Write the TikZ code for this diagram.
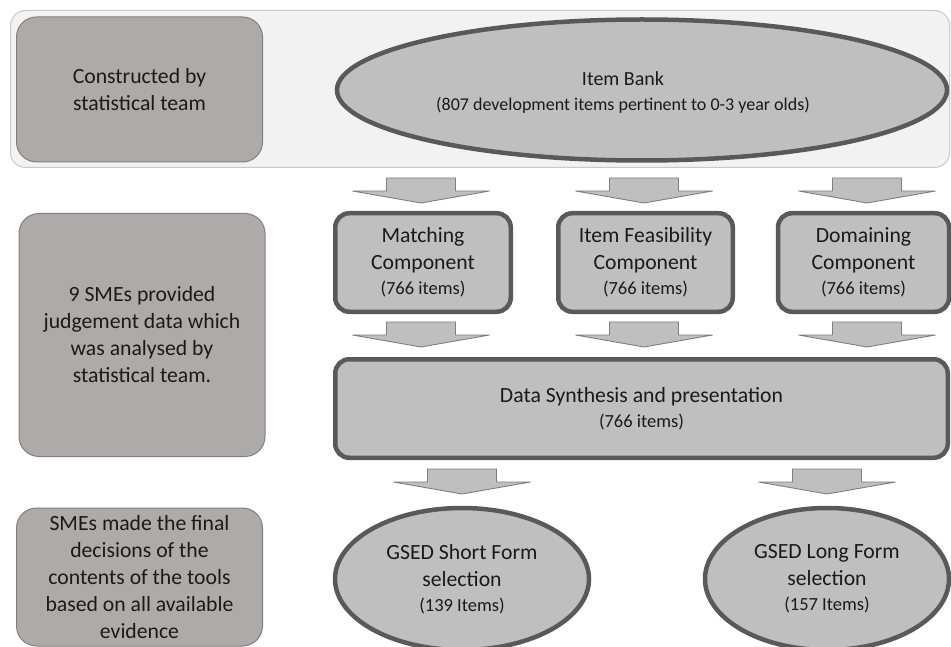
\documentclass[tikz,border=0pt]{standalone}
\usepackage{fontspec}
\setmainfont{Carlito}
\usetikzlibrary{shapes.geometric}
\definecolor{bandfill}{HTML}{F2F2F2}
\definecolor{bandline}{HTML}{C9C9C9}
\definecolor{sidefill}{HTML}{AEAAAA}
\definecolor{sideline}{HTML}{808080}
\definecolor{mainfill}{HTML}{BFBFBF}
\definecolor{mainline}{HTML}{595959}
\definecolor{arrline}{HTML}{7F7F7F}
\definecolor{ink}{HTML}{1A1A1A}
\newcommand\bigtxt{\fontsize{21.7}{27}\selectfont}
\newcommand\midtxt{\fontsize{20}{25}\selectfont}
\newcommand\smalltxt{\fontsize{18.5}{25}\selectfont}
\newcommand\subtxt{\fontsize{18}{25}\selectfont}
\tikzset{
  band/.style={draw=bandline, line width=1pt, fill=bandfill, rounded corners=15pt, inner sep=0pt},
  sidebox/.style={draw=sideline, line width=1pt, fill=sidefill, rounded corners=20pt, align=center, text=ink, font=\bigtxt, inner sep=0pt, minimum width=246pt},
  compbox/.style={draw=mainline, line width=4.5pt, fill=mainfill, rounded corners=14pt, align=center, text=ink, font=\bigtxt, inner sep=0pt},
  mainell/.style={ellipse, draw=mainline, line width=4.5pt, fill=mainfill, align=center, text=ink, font=\bigtxt, inner sep=0pt},
  plaintxt/.style={align=center, text=ink, inner sep=0pt, font=\midtxt},
  blockarr/.style={draw=arrline, line width=0.9pt, fill=mainfill, line join=miter},
  bkarrow/.pic={\path[blockarr] (-34.5,0) -- (34.5,0) -- (34.5,13) -- (68.5,13) -- (0,25) -- (-68.5,13) -- (-34.5,13) -- cycle;}
}
\begin{document}
\begin{tikzpicture}[x=1pt,y=-1pt]
\useasboundingbox[fill=white] (0,0) rectangle (951,647);
% top band
\node[band, minimum width=939pt, minimum height=157pt] (band) at (480,89) {};
% left boxes
\node[sidebox, minimum height=145pt] (s1) at (139.5,89.5) {Constructed by\\statistical team};
\node[sidebox, minimum height=243pt] (s2) at (142,335) {9 SMEs provided\\judgement data which\\was analysed by\\statistical team.};
\node[sidebox, minimum height=138pt] (s3) at (139.5,577) {SMEs made the final\\decisions of the\\contents of the tools\\based on all available\\evidence};
% item bank
\node[mainell, minimum width=610pt, minimum height=141pt] (ib) at (642,90) {};
\node[plaintxt] (ibt) at (623,93) {Item Bank\\{\subtxt (807 development items pertinent to 0-3 year olds)}};
% arrows row 1
\pic at (421,178) {bkarrow};
\pic at (644,178) {bkarrow};
\pic at (867,178) {bkarrow};
% component boxes
\node[compbox, minimum width=175.5pt, minimum height=98.5pt] (c1) at (423,262.5) {Matching\\Component\\[-2pt]{\smalltxt (766 items)}};
\node[compbox, minimum width=174.5pt, minimum height=98.5pt] (c2) at (645.5,262.5) {Item Feasibility\\Component\\[-2pt]{\smalltxt (766 items)}};
\node[compbox, minimum width=171pt, minimum height=98.5pt] (c3) at (863.5,262.5) {Domaining\\Component\\[-2pt]{\smalltxt (766 items)}};
% arrows row 2
\pic at (421,322) {bkarrow};
\pic at (644,322) {bkarrow};
\pic at (867,322) {bkarrow};
% data synthesis
\node[compbox, minimum width=612.5pt, minimum height=98.5pt] (ds) at (641.5,408.5) {Data Synthesis and presentation\\[-2pt]{\smalltxt (766 items)}};
% arrows row 3
\pic at (462,469) {bkarrow};
\pic at (827,469) {bkarrow};
% bottom ellipses
\node[mainell, minimum width=254pt, minimum height=142pt] (sf) at (462,579) {GSED Short Form\\selection\\[-2pt]{\smalltxt (139 Items)}};
\node[mainell, minimum width=244pt, minimum height=142pt] (lf) at (827,579) {GSED Long Form\\selection\\[-2pt]{\smalltxt (157 Items)}};
\end{tikzpicture}
\end{document}
